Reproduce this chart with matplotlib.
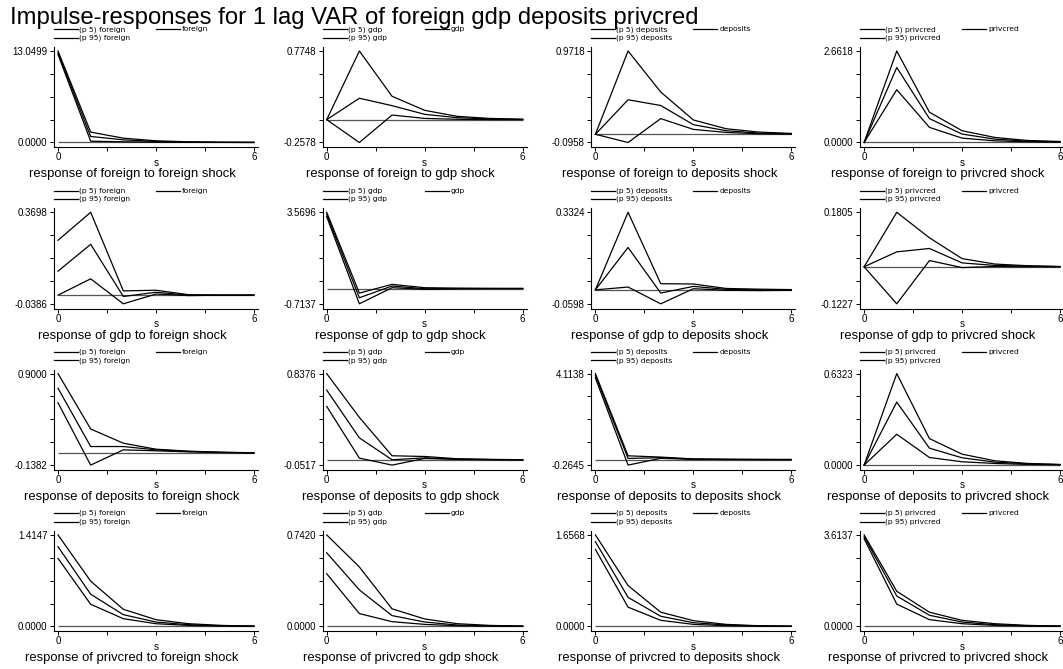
import numpy as np
import matplotlib.pyplot as plt
from matplotlib.lines import Line2D

plt.rcParams['font.family'] = ['Liberation Sans', 'DejaVu Sans']

fig_title = 'Impulse-responses for 1 lag VAR of foreign gdp deposits privcred'
variables = ['foreign', 'gdp', 'deposits', 'privcred']
steps = [0, 1, 2, 3, 4, 5, 6]
x_ticks = [0, 1.5, 3, 4.5, 6]
x_tick_labels = ['0', '', '', '', '6']

# each list holds one row per shock: foreign, gdp, deposits, privcred
# response of foreign
p5_foreign = [
    [12.55, 0.19, 0.10, 0.05, 0.02, 0.01, 0.0],
    [0, -0.2578, 0.052, 0.014, 0.004, 0.001, 0.0],
    [0, -0.0958, 0.183, 0.057, 0.022, 0.006, 0.002],
    [0, 1.536, 0.440, 0.127, 0.049, 0.020, 0.010],
]
irf_foreign = [
    [12.80, 0.86, 0.38, 0.14, 0.05, 0.02, 0.01],
    [0, 0.2415, 0.158, 0.060, 0.022, 0.008, 0.003],
    [0, 0.4027, 0.336, 0.112, 0.042, 0.014, 0.006],
    [0, 2.182, 0.695, 0.245, 0.098, 0.039, 0.020],
]
p95_foreign = [
    [13.0499, 1.48, 0.62, 0.24, 0.10, 0.04, 0.02],
    [0, 0.7748, 0.264, 0.105, 0.037, 0.014, 0.005],
    [0, 0.9718, 0.493, 0.167, 0.065, 0.026, 0.010],
    [0, 2.6618, 0.881, 0.3425, 0.147, 0.059, 0.029],
]

# response of gdp
p5_gdp = [
    [0.0, 0.0728, -0.0386, 0.005, -0.002, 0.0, 0.0],
    [3.366, -0.7137, 0.04, -0.039, -0.015, -0.005, 0.0],
    [0, 0.012, -0.0598, 0.0049, -0.002, -0.003, -0.002],
    [0, -0.1227, 0.0206, -0.0027, 0.001, 0.0, 0.0],
]
irf_gdp = [
    [0.107, 0.227, -0.006, 0.013, 0.0, 0.0, 0.0],
    [3.475, -0.431, 0.118, -0.01, 0.0, 0.0, 0.0],
    [0, 0.1816, -0.0138, 0.0149, 0.002, 0.0, 0.0],
    [0, 0.0494, 0.0606, 0.0128, 0.0045, 0.002, 0.0005],
]
p95_gdp = [
    [0.245, 0.3698, 0.019, 0.022, 0.002, 0.0, 0.0],
    [3.5696, -0.212, 0.196, 0.04, 0.02, 0.01, 0.005],
    [0, 0.3324, 0.0264, 0.025, 0.006, 0.003, 0.001],
    [0, 0.1805, 0.096, 0.027, 0.009, 0.0035, 0.001],
]

# response of deposits
p5_deposits = [
    [0.569, -0.1382, 0.0348, 0.024, 0.012, 0.004, 0.0],
    [0.519, 0.016, -0.0517, 0.013, 0.003, 0.001, 0.0],
    [3.908, -0.2645, 0.06, 0.01, 0.004, 0.001, 0.0],
    [0, 0.213, 0.0527, 0.0229, 0.0115, 0.0046, 0.002],
]
irf_deposits = [
    [0.7345, 0.0725, 0.0725, 0.035, 0.016, 0.006, 0.001],
    [0.677, 0.213, 0.0, 0.019, 0.007, 0.002, 0.0],
    [4.019, 0.055, 0.09, 0.02, 0.008, 0.003, 0.001],
    [0, 0.4353, 0.1168, 0.0504, 0.0206, 0.009, 0.003],
]
p95_deposits = [
    [0.9000, 0.2718, 0.110, 0.0424, 0.02, 0.008, 0.002],
    [0.8376, 0.412, 0.039, 0.032, 0.010, 0.004, 0.001],
    [4.1138, 0.18, 0.12, 0.03, 0.015, 0.006, 0.002],
    [0, 0.6323, 0.1833, 0.0756, 0.0298, 0.0115, 0.0046],
]

# response of privcred
p5_privcred = [
    [1.052, 0.342, 0.1192, 0.0415, 0.0155, 0.005, 0.001],
    [0.4271, 0.104, 0.0383, 0.0164, 0.0055, 0.002, 0.0],
    [1.394, 0.3485, 0.11, 0.0367, 0.0122, 0.004, 0.001],
    [3.467, 0.880, 0.2667, 0.1067, 0.04, 0.013, 0.005],
]
irf_privcred = [
    [1.2333, 0.4975, 0.1814, 0.0674, 0.0259, 0.0104, 0.003],
    [0.5969, 0.2957, 0.0876, 0.0356, 0.011, 0.004, 0.0015],
    [1.5345, 0.5258, 0.1834, 0.0672, 0.0245, 0.008, 0.003],
    [3.547, 1.2001, 0.44, 0.1733, 0.0667, 0.027, 0.01],
]
p95_privcred = [
    [1.4147, 0.6996, 0.2643, 0.1036, 0.0415, 0.0155, 0.005],
    [0.7420, 0.4819, 0.1424, 0.0602, 0.0219, 0.008, 0.003],
    [1.6568, 0.7397, 0.2568, 0.1039, 0.0367, 0.012, 0.004],
    [3.6137, 1.3868, 0.56, 0.24, 0.1067, 0.04, 0.013],
]

lower = {'foreign': p5_foreign, 'gdp': p5_gdp, 'deposits': p5_deposits, 'privcred': p5_privcred}
middle = {'foreign': irf_foreign, 'gdp': irf_gdp, 'deposits': irf_deposits, 'privcred': irf_privcred}
upper = {'foreign': p95_foreign, 'gdp': p95_gdp, 'deposits': p95_deposits, 'privcred': p95_privcred}

W, H = 1063, 669


def fx(px):
    return px / W


def fy(py):
    return 1 - py / H


fig = plt.figure(figsize=(W / 100, H / 100), dpi=100)
fig.text(fx(10), fy(24), fig_title, fontsize=17.2, va='baseline', ha='left')

unit = 196 / 6  # pixels per step
legend_font = dict(fontsize=5.4, family=['DejaVu Sans'], va='center', ha='left')
for r, resp in enumerate(variables):
    for c, imp in enumerate(variables):
        x0 = 58 + 268.7 * c      # pixel of step 0
        top = 51 + 161.3 * r     # pixel of the max tick
        ax = fig.add_axes([fx(x0 - 0.12 * unit), fy(top + 96.2), 6.24 * unit / W, 100.2 / H])

        lo = np.array(lower[resp][c])
        mid = np.array(middle[resp][c])
        hi = np.array(upper[resp][c])

        ax.hlines(0, steps[0], steps[-1], color='#555555', lw=0.9)
        for series in (lo, mid, hi):
            ax.plot(steps, series, color='black', lw=0.9)

        ymin = min(lo.min(), mid.min(), hi.min(), 0)
        ymax = max(lo.max(), mid.max(), hi.max(), 0)
        rng = ymax - ymin
        ax.set_ylim(ymin - 4.7 / 91.5 * rng, ymax + 4.0 / 91.5 * rng)
        ax.set_xlim(-0.12, 6.12)
        ax.set_yticks(np.linspace(ymin, ymax, 5))
        ax.set_yticklabels([f'{ymin:.4f}', '', '', '', f'{ymax:.4f}'])
        ax.set_xticks(x_ticks)
        ax.set_xticklabels(x_tick_labels)
        for side in ('top', 'right'):
            ax.spines[side].set_visible(False)
        for side in ('left', 'bottom'):
            ax.spines[side].set_linewidth(0.8)
        ax.tick_params(axis='y', length=3.2, width=0.7, labelsize=7, pad=1.6)
        ax.tick_params(axis='x', length=3.0, width=0.7, labelsize=7, pad=0.6)

        # legend above each panel
        rows = [(top - 21.7, f'(p 5) {imp}'), (top - 13.3, f'(p 95) {imp}')]
        for yy, lab in rows:
            fig.add_artist(Line2D([fx(x0 - 4), fx(x0 + 20)], [fy(yy), fy(yy)], color='black', lw=0.9))
            fig.text(fx(x0 + 21), fy(yy), lab, **legend_font)
        fig.add_artist(Line2D([fx(x0 + 98), fx(x0 + 122)], [fy(top - 21.7)] * 2, color='black', lw=0.9))
        fig.text(fx(x0 + 124), fy(top - 21.7), imp, **legend_font)

        fig.text(fx(x0 + 98), fy(top + 114.7), 's', fontsize=7, ha='center', va='baseline')
        fig.text(fx(x0 + 74), fy(top + 126.5), f'response of {resp} to {imp} shock',
                 fontsize=9.4, ha='center', va='baseline')

fig.savefig('out.png', dpi=100)
